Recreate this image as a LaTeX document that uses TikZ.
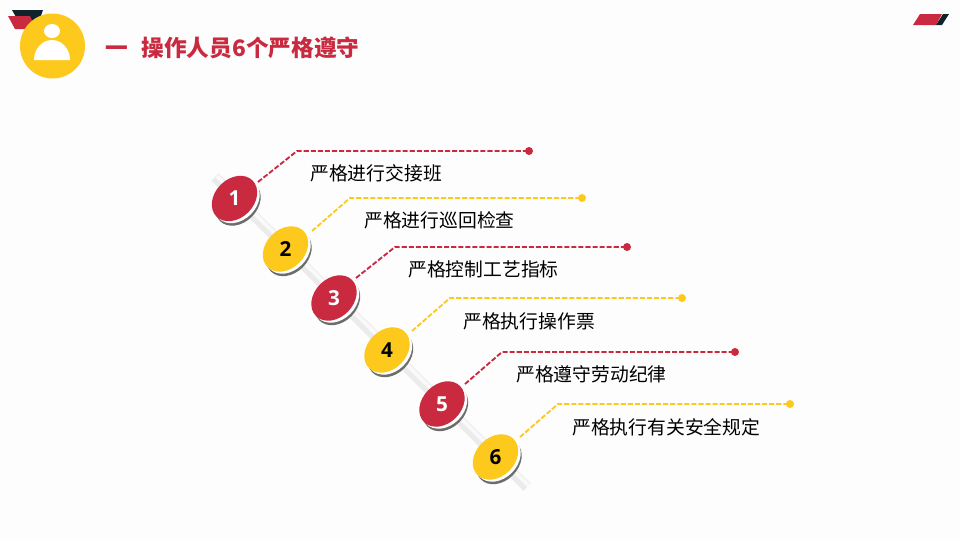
\documentclass[tikz,border=0pt]{standalone}
\usepackage{fontspec}
\setmainfont{Noto Sans CJK SC}
\newfontfamily\numfont{Open Sans}
\usetikzlibrary{shapes.geometric}
\definecolor{bgc}{HTML}{FDFDFD}
\definecolor{redc}{HTML}{C92A40}
\definecolor{yelc}{HTML}{FDC91C}
\definecolor{darkc}{HTML}{10222B}
\definecolor{railc}{HTML}{EBEBEB}
\definecolor{railh}{HTML}{F9F9F9}
\tikzset{x=0.75pt,y=-0.75pt,
 disc/.style={ellipse,rotate=45,minimum width=51*0.75pt,minimum height=39*0.75pt,inner sep=0pt},
 base/.style={disc,fill=#1},
 numtext/.style={font=\numfont\bfseries\fontsize{15.5}{18}\selectfont},
 lab/.style={anchor=west,inner sep=0pt,font=\fontsize{14.1}{17}\selectfont,text=black},
 lead/.style={line width=1.4pt,draw=#1,dash pattern=on 3.8pt off 1.5pt},
 tip/.style={circle,fill=#1,minimum size=6pt,inner sep=0pt}}
\newcommand{\pin}[6]{% name,x,y,colour,number,numcolour
 \node[base=gray!85!black] at (#2+3.5,#3+4.5) {};
 \node[base=white] at (#2+2.5,#3+2) {};
 \node[base=#4] (#1) at (#2,#3) {};
 \node[numtext,text=#6] at (#2,#3) {#5};
}
\newcommand{\leader}[8]{% disc,sx,sy,kx,ky,ex,ey,colour
 \coordinate (k#1) at (#4,#5);
 \node[tip=#8] (t#1) at (#6,#7) {};
 \coordinate (s#1) at (#2,#3);
 \draw[lead=#8] (s#1) -- (k#1) -- (t#1.center);
}
\begin{document}
\begin{tikzpicture}
\useasboundingbox (0,0) rectangle (960,540);
\fill[bgc] (0,0) rectangle (960,540);
% corner marks
\fill[darkc] (12,10) -- (43,10) -- (38,24) -- (20,24) -- cycle;
\fill[redc] (8,16) -- (30,16) -- (36,29) -- (15,29) -- cycle;
\fill[redc] (913,25) -- (920,14) -- (942,14) -- (936,25) -- cycle;
\fill[darkc] (936,25) -- (943,14) -- (949,14) -- (942,25) -- cycle;
% icon
\node[circle,fill=yelc,minimum size=65*0.75pt,inner sep=0pt] (icon) at (52.5,46) {};
\fill[white] (52,31) ellipse (8 and 7);
\fill[white] (34,60) arc[start angle=180,end angle=360,x radius=18,y radius=20] -- cycle;
% title
\node[anchor=west,inner sep=0pt,text=redc,font=\bfseries\fontsize{17}{20}\selectfont] (title) at (105,47.5) {一\hspace{0.6em}操作人员6个严格遵守};
% rail
\draw[railc,line width=7.5pt] (215,177) -- (527,487);
\draw[railh,line width=3pt] (217,176) -- (529,486);
% discs
\pin{a}{234.5}{198.5}{redc}{1}{white}
\pin{b}{285.5}{249}{yelc}{2}{black}
\pin{c}{334}{298}{redc}{3}{white}
\pin{d}{387}{350}{yelc}{4}{black}
\pin{e}{442}{404}{redc}{5}{white}
\pin{f}{495.5}{457}{yelc}{6}{black}
% leaders
\leader{a}{258}{182}{297}{151}{529}{151}{redc}
\leader{b}{312}{231}{350}{198}{582}{198}{yelc}
\leader{c}{356}{278}{395}{247}{627}{247}{redc}
\leader{d}{412}{331}{450}{298}{682}{298}{yelc}
\leader{e}{465}{384}{502}{352}{735}{352}{redc}
\leader{f}{520}{437}{558}{404}{790}{404}{yelc}
% labels
\node[lab] (la) at (310,173) {严格进行交接班};
\node[lab] (lb) at (364,220) {严格进行巡回检查};
\node[lab] (lc) at (408,269) {严格控制工艺指标};
\node[lab] (ld) at (463,321) {严格执行操作票};
\node[lab] (le) at (516,374) {严格遵守劳动纪律};
\node[lab] (lf) at (572,427) {严格执行有关安全规定};
\end{tikzpicture}
\end{document}
